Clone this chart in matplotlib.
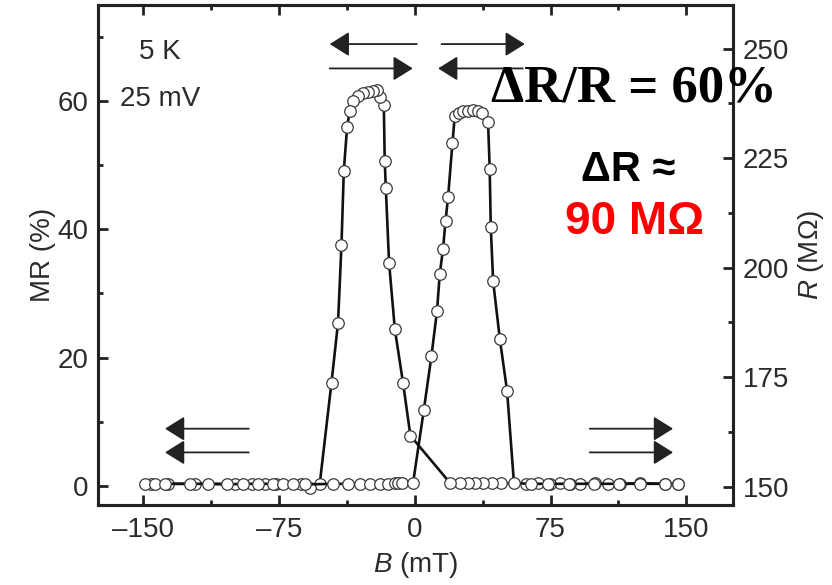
import matplotlib
matplotlib.use('Agg')
import matplotlib.pyplot as plt
from matplotlib.ticker import MultipleLocator

# field sweep from +150 down to -150 mT (peak at negative field)
down_B = [145.5, 138.1, 124.3, 113.3, 106.8, 99.4, 91.2, 85.6, 80.1, 74.6, 68.1, 61.7,
          47.9, 42.4, 37.7, 33.1, 29.5, 24.9, 19.3,
          -2.4, -6.5, -11.0, -14.2, -16.0, -16.6, -17.1, -19.3, -20.8, -23.0, -25.8,
          -28.6, -31.3, -34.1, -35.9, -37.4, -39.2, -40.5, -42.4, -46.0,
          -52.5, -58.0, -62.6, -76.4, -82.9, -90.0, -99.4, -121.5, -136.5, -146.0]
down_MR = [0.3, 0.3, 0.4, 0.3, 0.3, 0.4, 0.3, 0.3, 0.4, 0.3, 0.4, 0.3,
           0.4, 0.4, 0.4, 0.4, 0.5, 0.5, 0.5,
           7.8, 16.1, 24.4, 34.8, 46.5, 50.7, 59.4, 60.6, 61.7, 61.6, 61.4,
           61.2, 60.8, 60.0, 58.5, 55.9, 49.1, 37.5, 25.4, 16.1,
           0.3, -0.3, 0.2, 0.3, 0.3, 0.2, 0.3, 0.3, 0.3, 0.3]

# field sweep from -150 up to +150 mT (peak at positive field)
up_B = [-149.2, -143.6, -138.0, -124.3, -114.0, -104.0, -94.8, -86.6, -78.3, -72.8,
        -67.2, -60.8, -45.1, -36.8, -30.4, -24.9, -19.3, -14.7, -11.0, -9.2, -7.3, -0.9,
        5.0, 9.2, 12.3, 13.8, 15.6, 17.0, 18.4, 20.8, 22.1, 24.5, 26.7, 29.4, 32.2,
        35.0, 37.4, 40.5, 41.4, 42.0, 43.3, 47.0, 51.0,
        54.8, 64.0, 73.6, 85.0, 99.0, 113.0, 124.3, 138.1, 145.5]
up_MR = [0.3, 0.3, 0.3, 0.3, 0.3, 0.2, 0.3, 0.3, 0.3, 0.2,
         0.3, 0.2, 0.3, 0.3, 0.3, 0.3, 0.3, 0.3, 0.4, 0.4, 0.4, 0.5,
         11.8, 20.2, 27.3, 33.0, 36.9, 41.3, 45.0, 53.4, 57.7, 58.2, 58.4, 58.5, 58.6,
         58.5, 58.2, 56.7, 49.4, 40.3, 31.9, 22.9, 14.8,
         0.4, 0.3, 0.3, 0.3, 0.3, 0.3, 0.3, 0.3, 0.3]

x_ticks = [-150, -75, 0, 75, 150]
mr_ticks = [0, 20, 40, 60]
r_ticks = [150, 175, 200, 225, 250]

plt.rcParams['font.family'] = ['Liberation Sans', 'DejaVu Sans']
plt.rcParams['mathtext.fontset'] = 'custom'
plt.rcParams['mathtext.rm'] = 'Liberation Sans'
plt.rcParams['mathtext.it'] = 'Liberation Sans:italic'

txt_col = '#2b2b2b'
fig = plt.figure(figsize=(8.32, 5.85), dpi=100)
ax = fig.add_axes([0.1178, 0.1368, 0.7636, 0.8547])
ax2 = ax.twinx()

mk = dict(marker='o', ms=8.3, mfc='white', mec='#3a3a3a', mew=0.9,
          color='#111111', lw=1.9)
ax.plot(down_B, down_MR, **mk)
ax.plot(up_B, up_MR, **mk)

ax.set_xlim(-175, 176)
ax.set_ylim(-3, 75)
ax2.set_ylim(145.8, 260)

ax.set_xticks(x_ticks)
ax.set_xticklabels([str(v).replace('-', '\u2013') for v in x_ticks])
ax.xaxis.set_minor_locator(MultipleLocator(37.5))
ax.set_yticks(mr_ticks)
ax.yaxis.set_minor_locator(MultipleLocator(10))
ax2.set_yticks(r_ticks)
ax2.yaxis.set_minor_locator(MultipleLocator(12.5))

for a in (ax, ax2):
    for s in a.spines.values():
        s.set_linewidth(2.2)
        s.set_color('#222222')
    a.tick_params(which='major', direction='in', length=7, width=2,
                  labelsize=20, labelcolor=txt_col, color='#222222', pad=7)
    a.tick_params(which='minor', direction='in', length=3.5, width=2,
                  color='#222222')
ax.tick_params(axis='x', which='both', top=True, pad=9)
ax.tick_params(axis='y', which='both', right=False)

ax.set_xlabel('$B$ (mT)', fontsize=20, color=txt_col, labelpad=5)
ax.set_ylabel('MR (%)', fontsize=20, color=txt_col, labelpad=1)
ax2.set_ylabel('$R$ (M\u03a9)', fontsize=20, color=txt_col, labelpad=5)

ax.text(0.098, 0.905, '5 K', transform=ax.transAxes, fontsize=20,
        color=txt_col, ha='center', va='center')
ax.text(0.097, 0.812, '25 mV', transform=ax.transAxes, fontsize=20,
        color=txt_col, ha='center', va='center')

arw = dict(arrowstyle='-|>,head_length=1.2,head_width=0.75', mutation_scale=10,
           color='#222222', lw=1.3, shrinkA=0, shrinkB=0)
# (tail_x, tip_x, y) in data units
arrows = [(1.1, -47.0, 68.9), (-47.0, -1.1, 65.1),
          (14.8, 60.8, 68.9), (59.7, 12.9, 65.1),
          (-91.7, -138.0, 8.9), (-91.7, -138.0, 5.2),
          (96.7, 142.7, 8.9), (96.7, 142.7, 5.2)]
for x0, x1, y in arrows:
    ax.annotate('', xy=(x1, y), xytext=(x0, y), arrowprops=arw)

fig.text(0.762, 0.848, '\u0394R/R = 60%', fontsize=38, fontweight='bold',
         family='Liberation Serif', ha='center', va='center', color='black')
fig.text(0.755, 0.71, '\u0394R \u2248', fontsize=30, fontweight='bold',
         ha='center', va='center', color='black')
fig.text(0.763, 0.62, '90 M\u03a9', fontsize=33, fontweight='bold',
         ha='center', va='center', color='#ff0000')

fig.savefig('out.png', dpi=100)
